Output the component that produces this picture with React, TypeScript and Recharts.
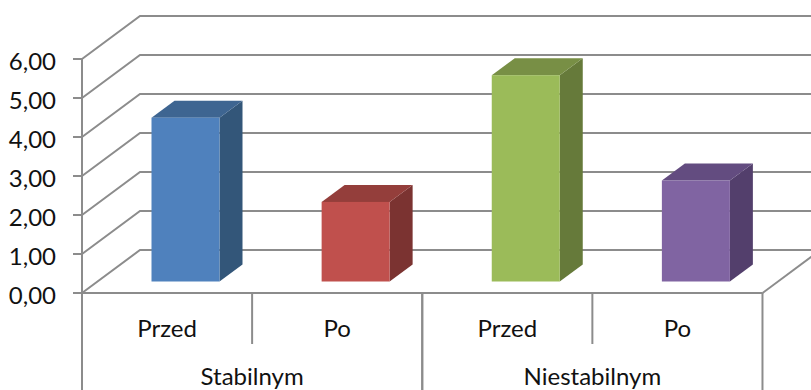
import { BarChart, Bar, XAxis, YAxis, CartesianGrid } from "recharts";

const CATEGORIES = ["Przed", "Po", "Przed", "Po"];
const GROUPS = ["Stabilnym", "Stabilnym", "Niestabilnym", "Niestabilnym"];
const VALUES = [4.2, 2.04, 5.29, 2.59];
const Y_TICKS = [0, 1, 2, 3, 4, 5, 6];

const FRONT_COLORS = ["#4F81BD", "#C0504D", "#9BBB59", "#8064A2"];
const SIDE_COLORS = ["#335679", "#7B3331", "#667A3A", "#533F6C"];
const TOP_COLORS = ["#3E6591", "#943E3B", "#788F45", "#634C80"];

const rows = CATEGORIES.map((name, i) => ({ name, group: GROUPS[i], value: VALUES[i] }));

const AXIS_COLOR = "#8C8C8C";
const FONT = "Lato, sans-serif";
const FONT_SIZE = 24;
const TEXT_COLOR = "#111";

// back wall sits up and to the right of the front axis plane
const WALL_DX = 58;
const WALL_DY = -43;
// bars stand halfway into the floor
const BAR_DX = 18.5;
const BAR_DY = -11.5;
const BAR_DEPTH_X = 23;
const BAR_DEPTH_Y = -17;
const BAND = 170.1;

function WallLine({ x1, x2, y1, index }: any) {
  const bx = x1 + WALL_DX;
  const by = y1 + WALL_DY;
  return (
    <g>
      <polyline
        points={`${x1},${y1} ${bx},${by} ${x2 + WALL_DX},${by}`}
        fill="none"
        stroke={AXIS_COLOR}
        strokeWidth={2}
      />
      {/* right edge of the floor */}
      {index === 0 && (
        <line x1={x2} y1={y1} x2={x2 + WALL_DX} y2={by} stroke={AXIS_COLOR} strokeWidth={2} />
      )}
    </g>
  );
}

function Box3D({ x, y, width, height, index }: any) {
  const l = x + BAR_DX;
  const r = l + width;
  const t = y + BAR_DY;
  const b = t + height;
  const dx = BAR_DEPTH_X;
  const dy = BAR_DEPTH_Y;
  return (
    <g>
      <polygon points={`${r},${t} ${r + dx},${t + dy} ${r + dx},${b + dy} ${r},${b}`} fill={SIDE_COLORS[index]} />
      <polygon points={`${l},${t} ${l + dx},${t + dy} ${r + dx},${t + dy} ${r},${t}`} fill={TOP_COLORS[index]} />
      <rect x={l} y={t} width={width} height={height} fill={FRONT_COLORS[index]} />
    </g>
  );
}

function CategoryTick({ x, y, payload, index }: any) {
  return (
    <g>
      <text x={x} y={y + 44} textAnchor="middle" fontFamily={FONT} fontSize={FONT_SIZE} fill={TEXT_COLOR}>
        {payload.value}
      </text>
      {index % 2 === 0 && (
        <line x1={x + BAND / 2} x2={x + BAND / 2} y1={y} y2={y + 51} stroke={AXIS_COLOR} strokeWidth={2} />
      )}
    </g>
  );
}

function GroupTick({ x, y, payload }: any) {
  return (
    <g>
      <text x={x} y={y + 41} textAnchor="middle" fontFamily={FONT} fontSize={FONT_SIZE} fill={TEXT_COLOR}>
        {payload.value}
      </text>
      <line x1={x - BAND} x2={x - BAND} y1={y - 51} y2={y + 46} stroke={AXIS_COLOR} strokeWidth={2} />
      <line x1={x + BAND} x2={x + BAND} y1={y - 51} y2={y + 46} stroke={AXIS_COLOR} strokeWidth={2} />
    </g>
  );
}

export default function App() {
  return (
    <div style={{ position: "absolute", left: 0, top: 0, width: 811, height: 390, background: "#fff", overflow: "hidden" }}>
      <BarChart
        width={811}
        height={390}
        data={rows}
        margin={{ top: 59, right: 48.5, bottom: 0, left: 10 }}
      >
        <CartesianGrid vertical={false} horizontal={WallLine} />
        <XAxis
          dataKey="name"
          xAxisId={0}
          height={51}
          interval={0}
          allowDuplicatedCategory
          tickSize={0}
          tickMargin={0}
          tick={CategoryTick}
          axisLine={{ stroke: AXIS_COLOR, strokeWidth: 2 }}
        />
        <XAxis
          dataKey="group"
          xAxisId="group"
          height={46}
          interval={0}
          allowDuplicatedCategory={false}
          tickSize={0}
          tickMargin={0}
          tick={GroupTick}
          axisLine={false}
        />
        <YAxis
          width={72}
          domain={[0, 6]}
          ticks={Y_TICKS}
          interval={0}
          tickFormatter={(v: number) => v.toFixed(2).replace(".", ",")}
          tickSize={9}
          tickMargin={17}
          tick={{ fontFamily: FONT, fontSize: FONT_SIZE, fill: TEXT_COLOR, dy: 2 }}
          tickLine={{ stroke: AXIS_COLOR, strokeWidth: 2 }}
          axisLine={{ stroke: AXIS_COLOR, strokeWidth: 2 }}
        />
        <Bar dataKey="value" xAxisId={0} barSize={68} shape={Box3D} isAnimationActive={false} />
      </BarChart>
    </div>
  );
}
